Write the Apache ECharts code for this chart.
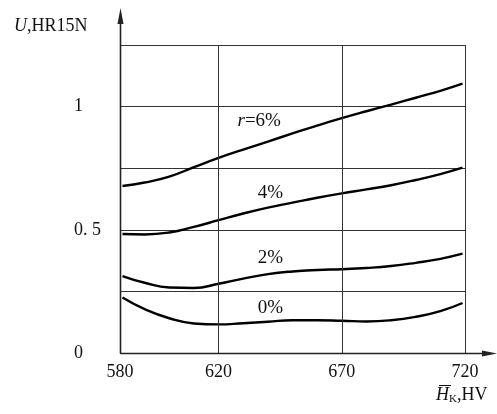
<!DOCTYPE html>
<html>
<head>
<meta charset="utf-8">
<script src="https://cdn.jsdelivr.net/npm/echarts@6/dist/echarts.min.js"></script>
<style>html,body{margin:0;padding:0;background:#fff}#c{width:497px;height:414px}</style>
</head>
<body>
<div id="c"></div>
<script>
// Hardness values (x), HV
const xValues = [581, 590, 600, 610, 620, 630, 640, 650, 660, 670, 680, 690, 700, 710, 719];
// Series values U, HR15N
const r6 = [0.678, 0.692, 0.716, 0.754, 0.792, 0.825, 0.858, 0.891, 0.923, 0.953, 0.981, 1.008, 1.036, 1.064, 1.093];
const r4 = [0.483, 0.481, 0.489, 0.512, 0.539, 0.566, 0.590, 0.610, 0.630, 0.648, 0.664, 0.681, 0.702, 0.726, 0.752];
const r2 = [0.312, 0.285, 0.266, 0.264, 0.281, 0.302, 0.320, 0.331, 0.337, 0.340, 0.345, 0.353, 0.366, 0.382, 0.403];
const r0 = [0.225, 0.178, 0.141, 0.120, 0.116, 0.121, 0.127, 0.133, 0.133, 0.131, 0.128, 0.133, 0.147, 0.170, 0.203];
// Series labels and label anchor positions (data coords)
const seriesNames = ['r=6%', '4%', '2%', '0%'];
const labelPos = [[636.5, 0.94], [641, 0.65], [641, 0.385], [641, 0.183]];
// Tick labels
const xTicks = [580, 620, 670, 720];
const yTicks = [0, 0.5, 1];
const yTickText = ['0', '0. 5', '1'];

const FONT = '"Liberation Serif","DejaVu Serif",serif';
const FS = 18;
const chart = echarts.init(document.getElementById('c'));
const allSeries = [r6, r4, r2, r0];

const series = allSeries.map((vals, i) => ({
  type: 'line',
  smooth: 0.5,
  showSymbol: false,
  silent: true,
  data: xValues.map((x, j) => [x, vals[j]]),
  lineStyle: { color: '#000', width: 2.4 },
  markPoint: {
    symbol: 'rect', symbolSize: 1,
    itemStyle: { color: 'rgba(0,0,0,0)' },
    label: {
      show: true, position: 'inside',
      fontFamily: FONT, fontSize: FS + 1, color: '#111',
      formatter: i === 0 ? '{i|r}=6%' : seriesNames[i],
      rich: { i: { fontStyle: 'italic', fontFamily: FONT, fontSize: FS + 1, color: '#111' } }
    },
    data: [{ coord: labelPos[i] }]
  },
  markLine: i === 0 ? {
    silent: true, symbol: 'none', label: { show: false },
    lineStyle: { color: '#333', width: 1, type: 'solid' },
    data: [{ xAxis: 620 }, { xAxis: 670 }, { xAxis: 720 }]
  } : undefined
}));

chart.setOption({
  animation: false,
  grid: { left: 120, right: 32, top: 45, bottom: 61 },
  xAxis: {
    type: 'value', min: 580, max: 720,
    axisLine: { show: false },
    axisTick: { show: false },
    splitLine: { show: false },
    axisLabel: {
      customValues: xTicks, margin: 10,
      fontFamily: FONT, fontSize: FS, color: '#111'
    }
  },
  yAxis: {
    type: 'value', min: 0, max: 1.25, interval: 0.25,
    axisLine: { show: false },
    axisTick: { show: false },
    splitLine: { show: true, lineStyle: { color: '#333', width: 1 } },
    axisLabel: {
      align: 'left', margin: 46,
      fontFamily: FONT, fontSize: FS, color: '#111',
      formatter: v => {
        const k = yTicks.findIndex(t => Math.abs(t - v) < 1e-6);
        return k >= 0 ? yTickText[k] : '';
      }
    }
  },
  series: series
});

// Axes with arrows, extending beyond the plot area
const o = chart.convertToPixel({ gridIndex: 0 }, [580, 0]);
const ox = Math.round(o[0]) + 0.5, oy = Math.round(o[1]) + 0.5;
const axisColor = '#222';
chart.setOption({
  graphic: [
    { type: 'line', shape: { x1: ox, y1: oy, x2: ox, y2: 20 }, style: { stroke: axisColor, lineWidth: 1.6 }, z: 100 },
    { type: 'polygon', shape: { points: [[ox, 8], [ox - 3, 24], [ox + 3, 24]] }, style: { fill: axisColor }, z: 100 },
    { type: 'line', shape: { x1: ox, y1: oy, x2: 485, y2: oy }, style: { stroke: axisColor, lineWidth: 1.6 }, z: 100 },
    { type: 'polygon', shape: { points: [[497, oy], [482, oy - 3], [482, oy + 3]] }, style: { fill: axisColor }, z: 100 },
    { type: 'text', left: 14, top: 17, z: 100,
      style: { text: '{i|U},HR15N', font: FS + 'px ' + FONT, fill: '#111',
        rich: { i: { fontStyle: 'italic', fontFamily: FONT, fontSize: FS, fill: '#111' } } } },
    { type: 'text', left: 436, top: 386, z: 100,
      style: { text: '{i|H}{s|K},HV', font: FS + 'px ' + FONT, fill: '#111',
        rich: { i: { fontStyle: 'italic', fontFamily: FONT, fontSize: FS, fill: '#111' },
                s: { fontFamily: FONT, fontSize: 11, fill: '#111', verticalAlign: 'bottom', padding: [8, 0, 0, 0] } } } },
    { type: 'line', shape: { x1: 439, y1: 385.5, x2: 451, y2: 385.5 }, style: { stroke: '#111', lineWidth: 1 }, z: 100 }
  ]
});
</script>
</body>
</html>
